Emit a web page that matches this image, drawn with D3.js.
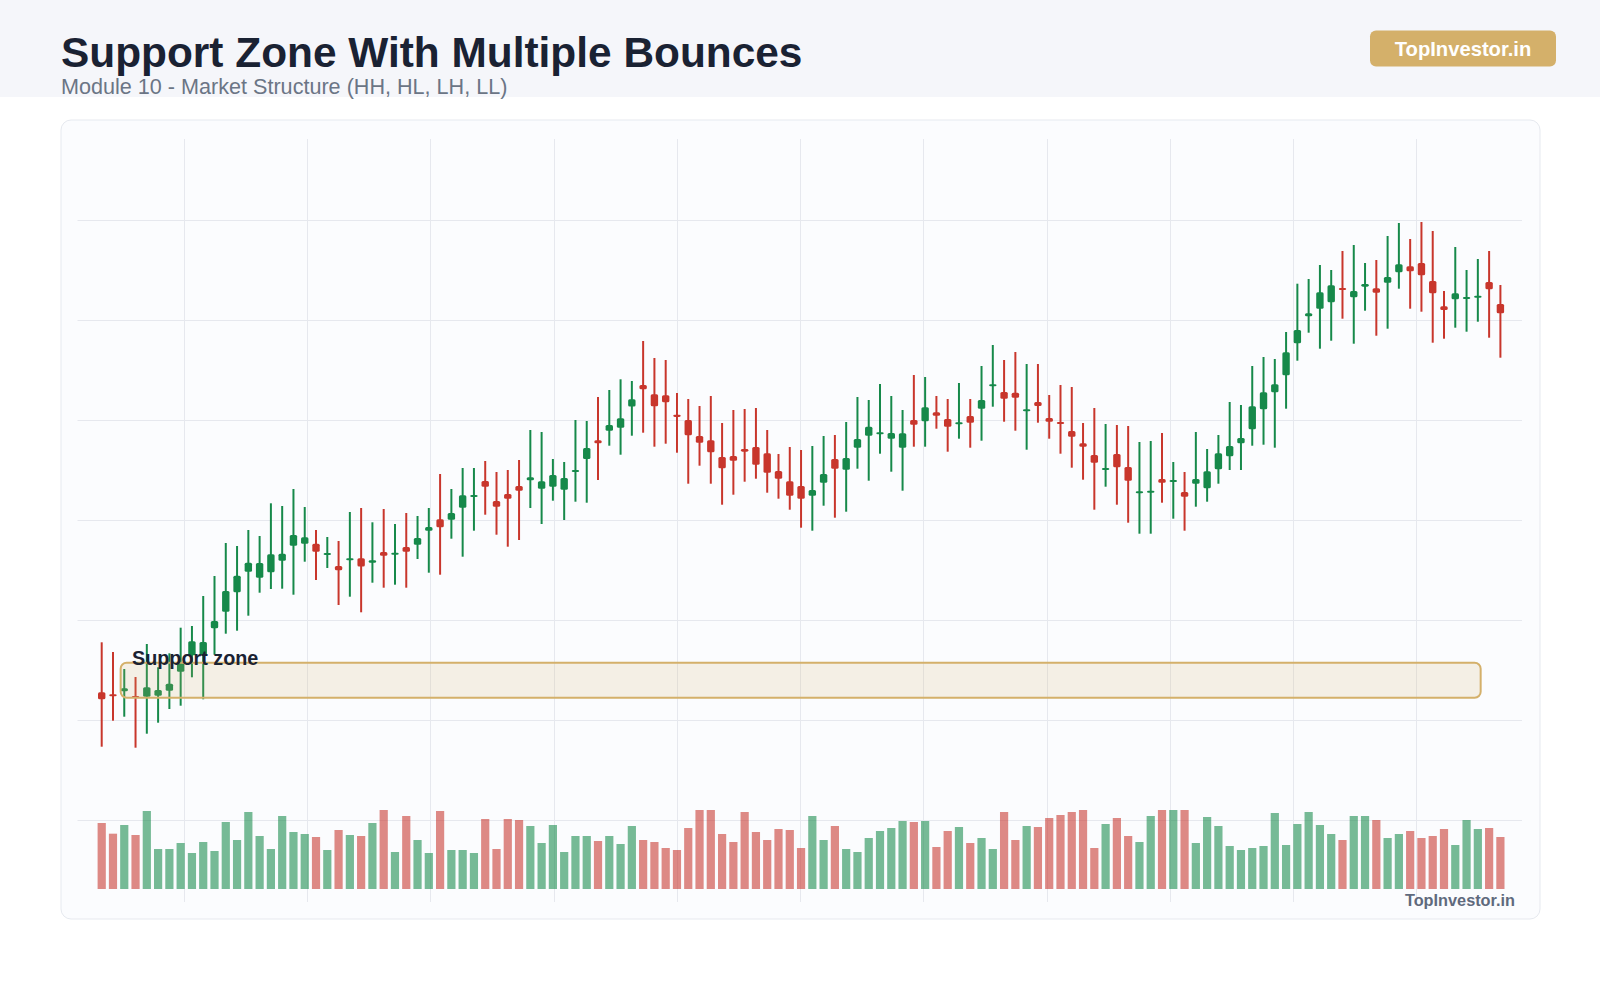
<!DOCTYPE html>
<html>
<head>
<meta charset="utf-8">
<script src="https://cdn.jsdelivr.net/npm/d3@7"></script>
<style>
  html, body { margin: 0; padding: 0; background: #ffffff; }
  svg { display: block; font-family: "Liberation Sans", Arial, sans-serif; }
</style>
</head>
<body>
<svg id="chart" width="1600" height="1000"></svg>
<script>
// ---------------- DATA ----------------
const titleText = "Support Zone With Multiple Bounces";
const subtitleText = "Module 10 - Market Structure (HH, HL, LH, LL)";
const brandText = "TopInvestor.in";
const zoneLabel = "Support zone";

const opens = [
  102.81,102.61,102.91,102.44,102.37,102.47,102.97,104.87,106.51,106.51,
  109.21,110.87,112.81,114.87,114.27,114.81,115.97,117.47,117.67,117.67,
  116.61,115.44,116.01,116.21,115.77,116.84,116.64,117.34,117.57,118.97,
  120.11,120.07,121.27,122.37,123.94,121.94,122.64,123.44,124.01,123.17,
  123.37,123.07,124.91,126.14,128.01,128.97,129.27,131.39,133.54,132.61,
  132.51,130.57,130.04,128.44,128.01,126.34,126.44,127.14,127.34,126.71,
  124.94,123.91,123.44,122.47,123.77,126.14,125.07,127.27,128.47,128.67,
  128.17,127.27,130.04,129.91,130.81,130.14,129.61,130.44,131.17,133.41,
  132.84,132.77,130.91,131.84,130.24,129.84,128.94,127.71,126.54,125.07,
  126.64,125.34,122.71,122.77,124.14,123.87,122.84,123.67,123.21,125.11,
  126.41,127.71,129.11,131.11,132.81,134.51,137.71,140.41,141.17,141.81,
  143.24,142.31,143.37,143.21,143.77,144.81,145.41,145.74,143.94,141.41,
  142.11,142.17,142.27,143.84,141.65
];
const highs = [
  107.81,106.84,105.14,104.34,107.64,105.31,106.71,109.27,109.44,112.44,
  114.44,117.74,117.44,119.04,118.44,121.71,121.44,123.14,121.34,119.04,
  118.34,117.94,120.84,121.24,119.81,121.14,119.64,120.74,120.44,121.24,
  124.64,123.14,125.24,125.24,125.94,124.84,125.04,126.04,129.04,128.84,
  126.14,125.84,130.04,129.94,132.34,133.04,134.11,133.94,137.94,136.24,
  136.04,132.74,132.14,131.44,132.44,129.74,131.04,131.14,131.24,129.04,
  126.64,127.34,127.04,127.44,128.44,128.54,129.84,132.34,132.04,133.64,
  132.44,131.04,134.54,134.34,132.44,132.14,133.74,132.14,135.44,137.54,
  136.04,136.84,135.64,135.64,132.54,133.54,133.34,129.74,131.24,129.64,
  129.54,129.44,127.84,127.94,128.74,125.84,124.84,128.84,127.14,128.54,
  131.84,131.54,135.44,136.34,136.14,138.84,143.67,144.14,145.54,145.04,
  146.94,147.54,145.74,146.04,148.44,149.74,148.14,149.84,148.94,142.94,
  147.34,145.04,146.14,146.94,143.54
];
const lows = [
  97.37,99.97,100.37,97.27,98.67,99.77,101.14,101.47,104.31,102.11,
  106.57,108.67,108.97,110.47,112.77,113.14,113.17,112.57,115.87,114.04,
  115.24,111.54,112.37,110.81,113.77,113.27,113.57,113.27,116.14,114.77,
  114.57,118.17,116.37,118.97,120.57,118.57,117.37,118.04,121.24,119.64,
  121.97,120.04,121.87,121.77,124.04,127.47,126.57,128.47,128.77,127.37,
  127.67,126.77,123.67,125.47,123.67,121.57,122.57,123.87,124.17,122.77,
  122.17,121.07,119.27,118.97,121.47,120.27,120.87,125.17,123.97,126.67,
  124.87,122.97,127.37,127.37,129.17,126.87,128.17,127.27,127.97,131.37,
  129.87,128.97,127.07,129.77,128.17,126.67,125.27,124.07,121.07,123.37,
  121.57,119.77,118.67,118.67,121.77,120.17,118.97,121.37,121.87,123.67,
  125.04,125.04,127.47,127.57,127.27,131.17,135.97,138.77,137.17,137.97,
  140.17,137.67,140.97,138.47,139.17,143.17,141.17,140.87,137.77,138.17,
  139.27,138.87,139.87,138.27,136.27
];
const closes = [
  102.11,102.41,103.21,102.34,103.31,103.04,103.67,105.71,107.91,107.84,
  109.94,112.94,114.47,115.77,115.74,116.61,116.67,118.54,118.31,116.87,
  116.74,115.01,116.21,115.39,116.01,116.47,116.77,116.87,118.24,119.34,
  119.31,120.74,122.51,122.54,123.37,121.37,122.17,122.97,124.31,123.91,
  124.54,124.24,125.04,127.24,127.71,129.54,130.21,132.12,133.11,131.41,
  131.81,130.34,128.51,127.77,126.81,125.21,125.97,126.87,125.57,124.77,
  124.17,122.47,122.17,123.04,124.64,125.17,126.24,128.14,129.37,128.81,
  128.74,128.71,129.57,131.31,130.47,129.37,129.81,129.77,132.04,133.61,
  132.17,132.27,131.11,131.44,129.87,129.67,128.37,127.37,125.77,125.24,
  125.31,123.97,122.91,122.97,123.77,124.04,122.37,124.14,124.91,126.71,
  127.44,128.24,131.41,132.81,133.61,136.81,139.04,140.71,142.81,143.51,
  143.04,142.94,143.64,142.77,144.34,145.61,144.91,144.51,142.71,141.04,
  142.71,142.34,142.47,143.11,140.71
];
const volumes = [
  1650,1383,1600,1350,1950,1000,1000,1150,900,1175,
  950,1675,1225,1925,1325,1000,1825,1425,1375,1300,
  975,1475,1350,1325,1650,1975,925,1825,1225,900,
  1950,975,975,900,1750,1000,1750,1725,1575,1150,
  1600,925,1325,1325,1200,1325,1125,1575,1225,1175,
  1025,975,1525,1975,1975,1375,1175,1925,1425,1225,
  1500,1475,1025,1825,1225,1575,1000,925,1275,1450,
  1525,1700,1675,1700,1050,1450,1550,1150,1275,1000,
  1925,1225,1575,1550,1775,1850,1925,1975,1025,1625,
  1775,1325,1175,1825,1975,1975,1975,1150,1800,1575,
  1075,975,1025,1075,1900,1100,1625,1925,1600,1375,
  1225,1825,1825,1725,1275,1375,1450,1275,1325,1500,
  1100,1725,1500,1525,1300
];
// support zone (price band and candle-index span)
const zoneLow = 102.27;
const zoneHigh = 105.77;
const zoneFrom = 1.68;
const zoneTo = 122.25;

// ---------------- LAYOUT ----------------
const W = 1600, H = 1000;
const UP = "#16894a", DOWN = "#c8362c", GOLD = "#d4b06a";
const card = {x: 61, y: 120, w: 1479, h: 799};
const plot = {left: 77.5, right: 1522, top: 139, bottom: 902};

const svg = d3.select("#chart");

// header band
svg.append("rect").attr("x", 0).attr("y", 0).attr("width", W).attr("height", 97).attr("fill", "#f5f6fa");
svg.append("text").attr("x", 61).attr("y", 66.5)
  .attr("font-size", 42.4).attr("font-weight", 700).attr("fill", "#1a2233").text(titleText);
svg.append("text").attr("x", 61).attr("y", 93.5)
  .attr("font-size", 21.6).attr("fill", "#6b7585").text(subtitleText);

// badge
svg.append("rect").attr("x", 1370).attr("y", 30.5).attr("width", 186).attr("height", 36).attr("rx", 6)
  .attr("fill", GOLD);
svg.append("text").attr("x", 1463).attr("y", 48.5).attr("text-anchor", "middle")
  .attr("dominant-baseline", "central").attr("font-size", 20.2).attr("font-weight", 700)
  .attr("fill", "#ffffff").text(brandText);

// card
svg.append("rect").attr("x", card.x).attr("y", card.y).attr("width", card.w).attr("height", card.h)
  .attr("rx", 10).attr("fill", "#fbfcfe").attr("stroke", "#e6e9ef").attr("stroke-width", 1);

// ---------------- SCALES ----------------
const idx = d3.range(opens.length);
const x = d3.scaleLinear().domain([0, opens.length - 1]).range([101.7, 1500.4]);
const y = d3.scaleLinear().domain([81.84, 158.14]).range([plot.bottom, plot.top]);
const yVol = d3.scaleLinear().domain([0, 2000]).range([889, 809]);
const xGrid = d3.scaleLinear().domain([-0.862, 10.857]).range([plot.left, plot.right]);

// grid
const grid = svg.append("g").attr("stroke", "#e6e8ee").attr("stroke-width", 1);
grid.selectAll("line.h").data(y.ticks(8)).join("line").attr("class", "h")
  .attr("x1", plot.left).attr("x2", plot.right)
  .attr("y1", d => Math.round(y(d)) + 0.5).attr("y2", d => Math.round(y(d)) + 0.5);
grid.selectAll("line.v").data(xGrid.ticks(11)).join("line").attr("class", "v")
  .attr("y1", plot.top).attr("y2", plot.bottom)
  .attr("x1", d => Math.round(xGrid(d)) + 0.5).attr("x2", d => Math.round(xGrid(d)) + 0.5);

const isUp = i => closes[i] >= opens[i];

// volume
const volW = 8.2;
svg.append("g").selectAll("rect").data(idx).join("rect")
  .attr("x", i => x(i) - volW / 2).attr("width", volW)
  .attr("y", i => yVol(volumes[i])).attr("height", i => yVol(0) - yVol(volumes[i]))
  .attr("fill", i => isUp(i) ? UP : DOWN).attr("fill-opacity", 0.58);

// candles
const bodyW = 7.4;
const cg = svg.append("g");
cg.selectAll("line").data(idx).join("line")
  .attr("x1", i => x(i)).attr("x2", i => x(i))
  .attr("y1", i => y(highs[i])).attr("y2", i => y(lows[i]))
  .attr("stroke", i => isUp(i) ? UP : DOWN).attr("stroke-width", 2);
cg.selectAll("rect").data(idx).join("rect")
  .attr("x", i => x(i) - bodyW / 2).attr("width", bodyW)
  .attr("y", i => y(Math.max(opens[i], closes[i])))
  .attr("height", i => Math.max(2, Math.abs(y(opens[i]) - y(closes[i]))))
  .attr("rx", 1.5)
  .attr("fill", i => isUp(i) ? UP : DOWN);

// support zone overlay
svg.append("rect")
  .attr("x", x(zoneFrom)).attr("width", x(zoneTo) - x(zoneFrom))
  .attr("y", y(zoneHigh)).attr("height", y(zoneLow) - y(zoneHigh))
  .attr("rx", 6).attr("fill", GOLD).attr("fill-opacity", 0.17)
  .attr("stroke", GOLD).attr("stroke-width", 2);
svg.append("text").attr("x", 132).attr("y", y(zoneHigh) + 2.5)
  .attr("font-size", 19.8).attr("font-weight", 700).attr("fill", "#1a2233").text(zoneLabel);

// watermark
svg.append("text").attr("x", 1515).attr("y", 906).attr("text-anchor", "end")
  .attr("font-size", 16.3).attr("font-weight", 700).attr("fill", "#5f6a7d").text(brandText);
</script>
</body>
</html>
